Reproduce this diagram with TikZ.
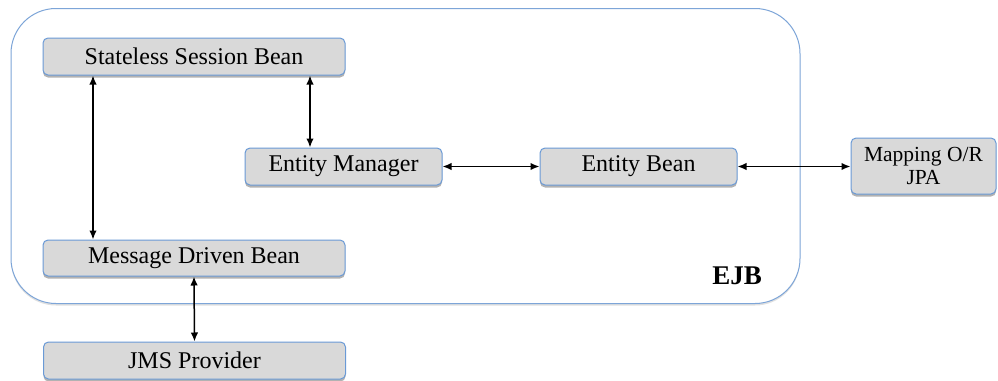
\documentclass[tikz,border=0pt]{standalone}
\usepackage{fontspec}
\setmainfont{Liberation Serif}
\usetikzlibrary{arrows.meta,shadows}
\definecolor{boxfill}{HTML}{D9D9D9}
\definecolor{boxline}{HTML}{6A9AD6}
\definecolor{outerline}{HTML}{7DA5D8}
\tikzset{
  beanbox/.style={draw=boxline, fill=boxfill, line width=1pt, rounded corners=5pt,
    inner sep=0pt, align=center, font=\fontsize{24}{28}\selectfont,
    drop shadow={shadow xshift=0pt, shadow yshift=-2.5pt, opacity=0.3, fill=black}},
  arr/.style={{Latex[length=9pt,width=7.5pt]}-{Latex[length=9pt,width=7.5pt]}, line width=1.5pt, black},
}
\begin{document}
\begin{tikzpicture}[x=1pt,y=-1pt]
\useasboundingbox (0,0) rectangle (998,380);
\node[draw=outerline, line width=1pt, rounded corners=45pt, minimum width=789pt, minimum height=295pt,
  drop shadow={shadow xshift=0pt, shadow yshift=-2pt, opacity=0.12, fill=black}, fill=white]
  (ejbbox) at (405.5,156) {};
\node[font=\fontsize{27}{30}\selectfont\bfseries, anchor=base] (ejblabel) at (737,284) {EJB};
\node[beanbox, minimum width=302pt, minimum height=37pt] (ssb) at (194,56.5) {Stateless Session Bean};
\node[beanbox, minimum width=197pt, minimum height=37pt] (em) at (343.5,166.5) {Entity Manager};
\node[beanbox, minimum width=197pt, minimum height=37pt] (eb) at (638.5,166.5) {Entity Bean};
\node[beanbox, minimum width=145pt, minimum height=56pt, font=\fontsize{21.5}{23}\selectfont] (map) at (923.5,166) {Mapping O/R\\JPA};
\node[beanbox, minimum width=302pt, minimum height=36pt] (mdb) at (194,258) {Message Driven Bean};
\node[beanbox, minimum width=302pt, minimum height=37pt] (jms) at (194.5,360.5) {JMS Provider};
\draw[arr] ([xshift=-101pt]ssb.south) -- ([xshift=-101pt]mdb.north);
\draw[arr] ([xshift=116pt]ssb.south) -- ([xshift=-33.5pt]em.north);
\draw[arr] (em.east) -- (eb.west);
\draw[arr] (eb.east) -- (map.west |- eb.east);
\draw[arr] (mdb.south) -- (jms.north);
\end{tikzpicture}
\end{document}
